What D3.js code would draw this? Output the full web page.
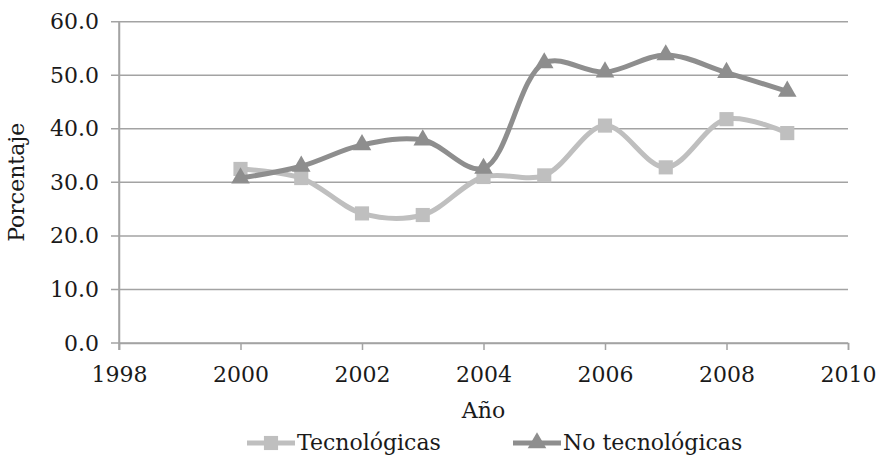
<!DOCTYPE html>
<html>
<head>
<meta charset="utf-8">
<script src="https://cdn.jsdelivr.net/npm/d3@7"></script>
<style>
  body { margin: 0; background: #fff; }
  svg text { font-family: "DejaVu Serif", serif; fill: #1a1a1a; }
</style>
</head>
<body>
<div id="chart"></div>
<script>
// data
const years = [2000, 2001, 2002, 2003, 2004, 2005, 2006, 2007, 2008, 2009];
const tecnologicas = [32.5, 30.8, 24.2, 23.9, 31.0, 31.3, 40.6, 32.8, 41.8, 39.2];
const noTecnologicas = [30.8, 33.0, 37.0, 37.9, 32.6, 52.3, 50.6, 53.8, 50.5, 47.0];
const xTicks = [1998, 2000, 2002, 2004, 2006, 2008, 2010];
const yTicks = [0, 10, 20, 30, 40, 50, 60];
const seriesNames = ["Tecnológicas", "No tecnológicas"];

const trueWidth = 885, trueHeight = 459;
const margin = {top: 21.7, right: 37, bottom: 116, left: 119};
const width = trueWidth - margin.left - margin.right;
const height = trueHeight - margin.top - margin.bottom;

const gridColor = "#a3a3a3";
const colLight = "#bfbfbf";
const colDark = "#8e8e8e";
const fontSize = "22px";

const svg = d3.select("#chart").append("svg")
  .attr("width", trueWidth)
  .attr("height", trueHeight)
  .append("g")
    .attr("transform", "translate(" + margin.left + "," + margin.top + ")");

let x = d3.scaleLinear().domain([1998, 2010]).range([0, width]);
let y = d3.scaleLinear().domain([0, 60]).range([height, 0]);

// gridlines (with the small stub left of the axis)
svg.append("g").selectAll("line")
  .data(yTicks)
  .join("line")
    .attr("x1", -8).attr("x2", width)
    .attr("y1", d => y(d)).attr("y2", d => y(d))
    .attr("stroke", gridColor).attr("stroke-width", 1.5);

// y axis
let yAxis = d3.axisLeft(y).tickValues(yTicks).tickSize(0).tickPadding(20).tickFormat(d3.format(".1f"));
let gy = svg.append("g").call(yAxis);
gy.attr("font-family", null).attr("font-size", null);
gy.select(".domain").attr("stroke", gridColor).attr("stroke-width", 1.5);
gy.selectAll("text").style("font-size", fontSize);

// x axis
let xAxis = d3.axisBottom(x).tickValues(xTicks).tickSize(7).tickPadding(16).tickFormat(d3.format("d"));
let gx = svg.append("g").attr("transform", "translate(0," + height + ")").call(xAxis);
gx.attr("font-family", null).attr("font-size", null);
gx.select(".domain").attr("stroke", gridColor).attr("stroke-width", 1.5);
gx.selectAll(".tick line").attr("stroke", gridColor).attr("stroke-width", 1.5);
gx.selectAll("text").style("font-size", fontSize);
svg.append("line")
  .attr("x1", 0).attr("x2", 0).attr("y1", y(60)).attr("y2", height + 7)
  .attr("stroke", gridColor).attr("stroke-width", 1.5);

// axis titles
svg.append("text")
  .attr("x", x(2004)).attr("y", height + 75)
  .attr("text-anchor", "middle")
  .style("font-size", fontSize)
  .text("Año");

svg.append("text")
  .attr("transform", "translate(" + (-95) + "," + (height / 2) + ") rotate(-90)")
  .attr("text-anchor", "middle")
  .style("font-size", fontSize)
  .text("Porcentaje");

// lines
let valueline = d3.line()
  .x(d => x(d[0]))
  .y(d => y(d[1]))
  .curve(d3.curveCatmullRom.alpha(0.5));

const series = [
  {name: seriesNames[0], values: tecnologicas, color: colLight, shape: d3.symbolSquare},
  {name: seriesNames[1], values: noTecnologicas, color: colDark, shape: d3.symbolTriangle}
];

series.forEach(s => {
  let pts = years.map((yr, i) => [yr, s.values[i]]);
  svg.append("path")
    .attr("d", valueline(pts))
    .attr("fill", "none")
    .attr("stroke", s.color)
    .attr("stroke-width", 5)
    .attr("stroke-linejoin", "round");

  let size = s.shape === d3.symbolSquare ? 200 : 150;
  svg.append("g").selectAll("path")
    .data(pts)
    .join("path")
      .attr("transform", d => "translate(" + x(d[0]) + "," + y(d[1]) + ")")
      .attr("d", d3.symbol().type(s.shape).size(size))
      .attr("fill", s.color);
});

// legend
const legendItems = [
  {x: 247 - margin.left, s: series[0]},
  {x: 513 - margin.left, s: series[1]}
];
const ly = 443 - margin.top;
legendItems.forEach(li => {
  let g = svg.append("g").attr("transform", "translate(" + li.x + "," + ly + ")");
  g.append("line")
    .attr("x1", 0).attr("x2", 48)
    .attr("stroke", li.s.color).attr("stroke-width", 5);
  let size = li.s.shape === d3.symbolSquare ? 200 : 150;
  g.append("path")
    .attr("transform", "translate(24,0)")
    .attr("d", d3.symbol().type(li.s.shape).size(size))
    .attr("fill", li.s.color);
  g.append("text")
    .attr("x", 50).attr("y", 0)
    .attr("dy", "0.32em")
    .style("font-size", fontSize)
    .text(li.s.name);
});
</script>
</body>
</html>
